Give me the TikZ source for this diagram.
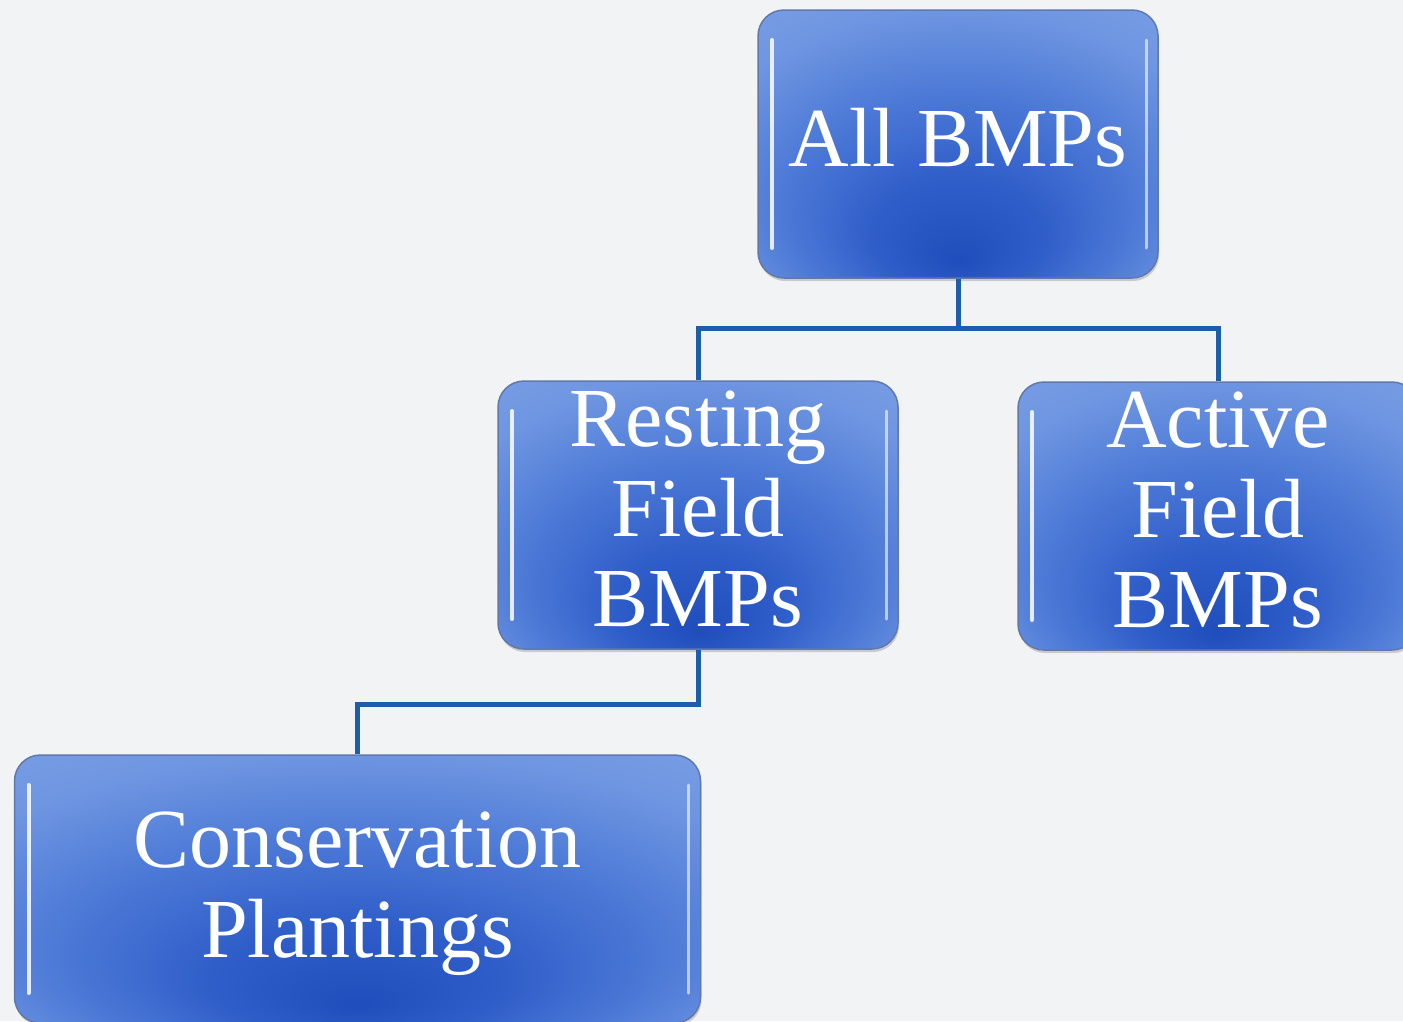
\documentclass[tikz,border=0pt]{standalone}
\usepackage{fontspec}
\setmainfont{Liberation Serif}
\usetikzlibrary{shadows}
\definecolor{bg}{HTML}{F2F3F5}
\definecolor{conncol}{HTML}{1D5EAA}
\definecolor{boxedge}{HTML}{6178AC}
\definecolor{sc0}{HTML}{1F4DBB}
\definecolor{sc1}{HTML}{2E5CC8}
\definecolor{sc2}{HTML}{4D7AD7}
\definecolor{sc3}{HTML}{6F96E1}
\definecolor{sc4}{HTML}{84A7E9}
\pgfdeclareradialshading{bmpshade}{\pgfpoint{0bp}{-22bp}}{color(0bp)=(sc0); color(10bp)=(sc1); color(22bp)=(sc2); color(33bp)=(sc3); color(50bp)=(sc4)}
\tikzset{
  bmpbox/.style={rounded corners=26pt, shading=bmpshade, draw=boxedge, line width=1.5pt,
    minimum width=400pt, minimum height=268pt, inner sep=0pt,
    drop shadow={opacity=0.35, shadow xshift=1pt, shadow yshift=-3pt},
    path picture={
      \draw[white, line width=4pt, opacity=0.85, line cap=round]
        ([xshift=14pt,yshift=-30pt]path picture bounding box.north west) --
        ([xshift=14pt,yshift=30pt]path picture bounding box.south west);
      \draw[white, line width=3pt, opacity=0.6, line cap=round]
        ([xshift=-12pt,yshift=-30pt]path picture bounding box.north east) --
        ([xshift=-12pt,yshift=30pt]path picture bounding box.south east);}},
  bmptext/.style={text=white, align=center, font=\fontsize{84}{90}\selectfont, inner sep=0pt},
  conn/.style={draw=conncol, line width=5pt}
}
\begin{document}
\begin{tikzpicture}[x=1pt,y=-1pt]
\fill[bg] (0,0) rectangle (1403,1021);
\useasboundingbox (0,0) rectangle (1403,1021);
\node[bmpbox] (all) at (958,144) {};
\node[bmpbox] (rest) at (698,515) {};
\node[bmpbox] (act) at (1218,516) {};
\node[bmpbox, minimum width=686pt] (cons) at (357.5,889) {};
\draw[conn] (all.south) -- ++(0,50) coordinate (fork) -| (rest.north);
\draw[conn] (fork) -| (act.north);
\draw[conn] (rest.south) -- ++(0,55) -| (cons.north);
\node[bmptext, yshift=6pt] (allT) at (all) {All BMPs};
\node[bmptext, yshift=6pt] (restT) at (rest) {Resting\\Field\\BMPs};
\node[bmptext, yshift=6pt] (actT) at (act) {Active\\Field\\BMPs};
\node[bmptext, yshift=-5pt] (consT) at (cons) {Conservation\\Plantings};
\end{tikzpicture}
\end{document}
